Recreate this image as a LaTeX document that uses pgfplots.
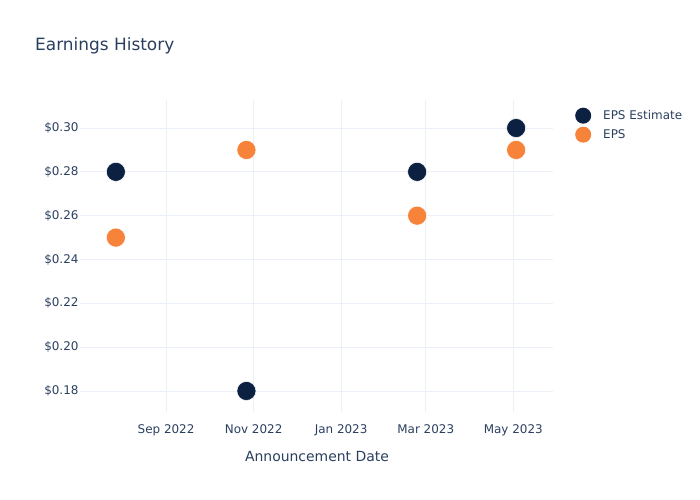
\documentclass[border=0pt]{standalone}
\usepackage{pgfplots}
\pgfplotsset{compat=1.18}
\usepackage{fontspec}
\setmainfont{DejaVu Sans}
\definecolor{txt}{HTML}{2A3F5F}
\definecolor{gridc}{HTML}{EBF0F8}
\definecolor{navy}{HTML}{0C2141}
\definecolor{orng}{HTML}{F7823A}
\begin{document}
\begin{tikzpicture}[x=1bp,y=1bp]
\useasboundingbox (0,0) rectangle (700,500);
\node[anchor=west,text=txt,font=\fontsize{17}{20}\selectfont,inner sep=0] at (35,454) {Earnings History};
\node[anchor=center,text=txt,font=\fontsize{14}{16}\selectfont,inner sep=0] at (317,43) {Announcement Date};
\begin{axis}[
  at={(80bp,88bp)}, anchor=south west,
  scale only axis, width=473bp, height=312bp,
  xmin=-60, xmax=269.7, ymin=0.1704, ymax=0.3128,
  axis line style={draw=none},
  major tick length=0pt,
  grid=major, major grid style={gridc, line width=0.8pt},
  xtick={0,61,122,181,242},
  xticklabels={Sep 2022,Nov 2022,Jan 2023,Mar 2023,May 2023},
  ytick={0.18,0.20,0.22,0.24,0.26,0.28,0.30},
  yticklabel={\$\pgfmathprintnumber[fixed,precision=2,zerofill]{\tick}},
  /pgf/number format/assume math mode=true,
  ticklabel style={text=txt,font=\fontsize{12}{14}\selectfont},
  xticklabel style={yshift=-9bp},
  yticklabel style={xshift=2bp},
  legend style={at={(1.0465,0.976)}, anchor=north west, draw=none, fill=none,
    font=\fontsize{12}{14}\selectfont, text=txt, row sep=3bp, inner sep=0pt,
    nodes={inner sep=1bp}},
  legend cell align=left,
  legend image code/.code={\path[draw=none,fill=none] (0bp,0bp) rectangle (27bp,0bp); \fill[draw=none] (8bp,0bp) circle (8bp);},
]
\addplot[only marks, mark=*, mark size=9.5bp, color=navy, mark options={draw=white, line width=0.5pt}]
  coordinates {(-35,0.28) (56,0.18) (175,0.28) (244,0.30)};
\addlegendentry{EPS Estimate}
\addplot[only marks, mark=*, mark size=9.5bp, color=orng, mark options={draw=white, line width=0.5pt}]
  coordinates {(-35,0.25) (56,0.29) (175,0.26) (244,0.29)};
\addlegendentry{EPS}
\end{axis}
\end{tikzpicture}
\end{document}
